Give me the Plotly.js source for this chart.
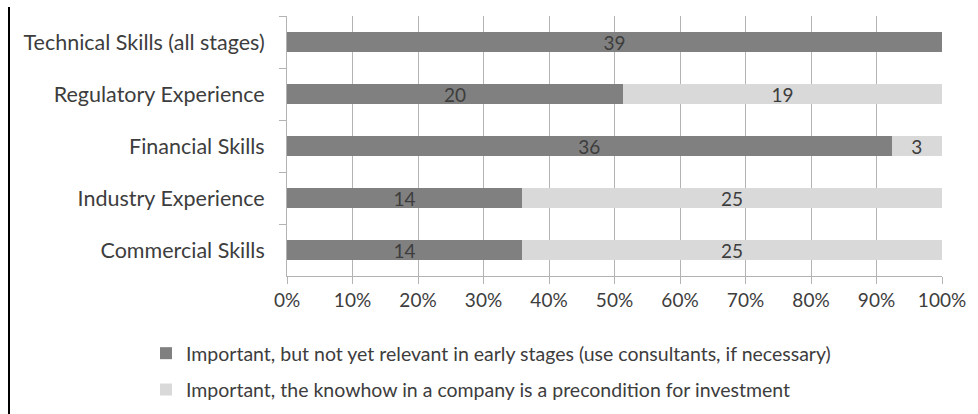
<!DOCTYPE html>
<html>
<head>
<meta charset="utf-8">
<script src="https://cdn.plot.ly/plotly-3.0.1.min.js"></script>
<style>html,body{margin:0;padding:0;background:#fff;}#chart{width:978px;height:414px;}</style>
</head>
<body>
<div id="chart"></div>
<script>
const categories = ["Technical Skills (all stages)", "Regulatory Experience", "Financial Skills", "Industry Experience", "Commercial Skills"];
const notYetRelevant = [39, 20, 36, 14, 14];
const precondition = [0, 19, 3, 25, 25];
const seriesNames = [
  "Important, but not yet relevant in early stages (use consultants, if necessary)",
  "Important, the knowhow in a company is a precondition for investment"
];
const xTickVals = [0, 10, 20, 30, 40, 50, 60, 70, 80, 90, 100];
const xTickText = xTickVals.map(v => v + "%");

const FONT = "Lato, 'Open Sans', sans-serif";
const TXT = "#3d3d3d";
const W = 978, H = 414, L = 287, R = 36, T = 16, B = 138;
const pw = W - L - R, ph = H - T - B;
const px2x = p => (p - L) / pw;
const py2y = p => (H - B - p) / ph;

const label = v => v === 0 ? "" : String(v);

const traces = [
  {
    type: "bar", orientation: "h", name: seriesNames[0], legendgroup: "a",
    y: categories, x: notYetRelevant, text: notYetRelevant.map(label),
    textposition: "inside", insidetextanchor: "middle", textangle: 0, constraintext: "none",
    textfont: {family: FONT, size: 19, color: TXT},
    marker: {color: "#808080", line: {width: 0}},
    hoverinfo: "skip"
  },
  {
    type: "bar", orientation: "h", name: seriesNames[1], legendgroup: "b",
    y: categories, x: precondition, text: precondition.map(label),
    textposition: "inside", insidetextanchor: "middle", textangle: 0, constraintext: "none",
    textfont: {family: FONT, size: 19, color: TXT},
    marker: {color: "#d9d9d9", line: {width: 0}},
    hoverinfo: "skip"
  }
];

const layout = {
  width: W, height: H,
  margin: {l: L, r: R, t: T, b: B, pad: 0, autoexpand: false},
  paper_bgcolor: "#fff", plot_bgcolor: "#fff",
  font: {family: FONT, size: 20, color: TXT},
  barmode: "stack", barnorm: "percent", bargap: 0.615,
  xaxis: {
    range: [0, 100], tickmode: "array", tickvals: xTickVals, ticktext: xTickText,
    showgrid: true, gridcolor: "#b3b3b3", gridwidth: 1,
    showline: true, linecolor: "#b3b3b3", linewidth: 1,
    ticks: "outside", ticklen: 7, tickcolor: "#b3b3b3",
    zeroline: false, fixedrange: true, automargin: false,
    tickfont: {family: FONT, size: 19, color: TXT}
  },
  yaxis: {
    type: "category", categoryorder: "array", categoryarray: categories,
    autorange: "reversed", tickson: "boundaries",
    ticks: "outside", ticklen: 7, tickcolor: "#b3b3b3",
    showline: true, linecolor: "#b3b3b3", linewidth: 1,
    showgrid: false, zeroline: false, ticklabelstandoff: 17, automargin: false,
    tickfont: {family: FONT, size: 21.5, color: TXT}
  },
  showlegend: true,
  legend: {
    orientation: "v", traceorder: "grouped", tracegroupgap: 8,
    x: px2x(146), xanchor: "left", y: py2y(334), yanchor: "top",
    font: {family: FONT, size: 19.5, color: TXT},
    bgcolor: "rgba(0,0,0,0)", itemclick: false, itemdoubleclick: false
  },
  shapes: [{
    type: "line", xref: "paper", yref: "paper",
    x0: px2x(9), x1: px2x(9), y0: py2y(7), y1: py2y(414),
    line: {color: "#000", width: 2}
  }]
};

Plotly.newPlot("chart", traces, layout, {displayModeBar: false, staticPlot: true});
</script>
</body>
</html>
